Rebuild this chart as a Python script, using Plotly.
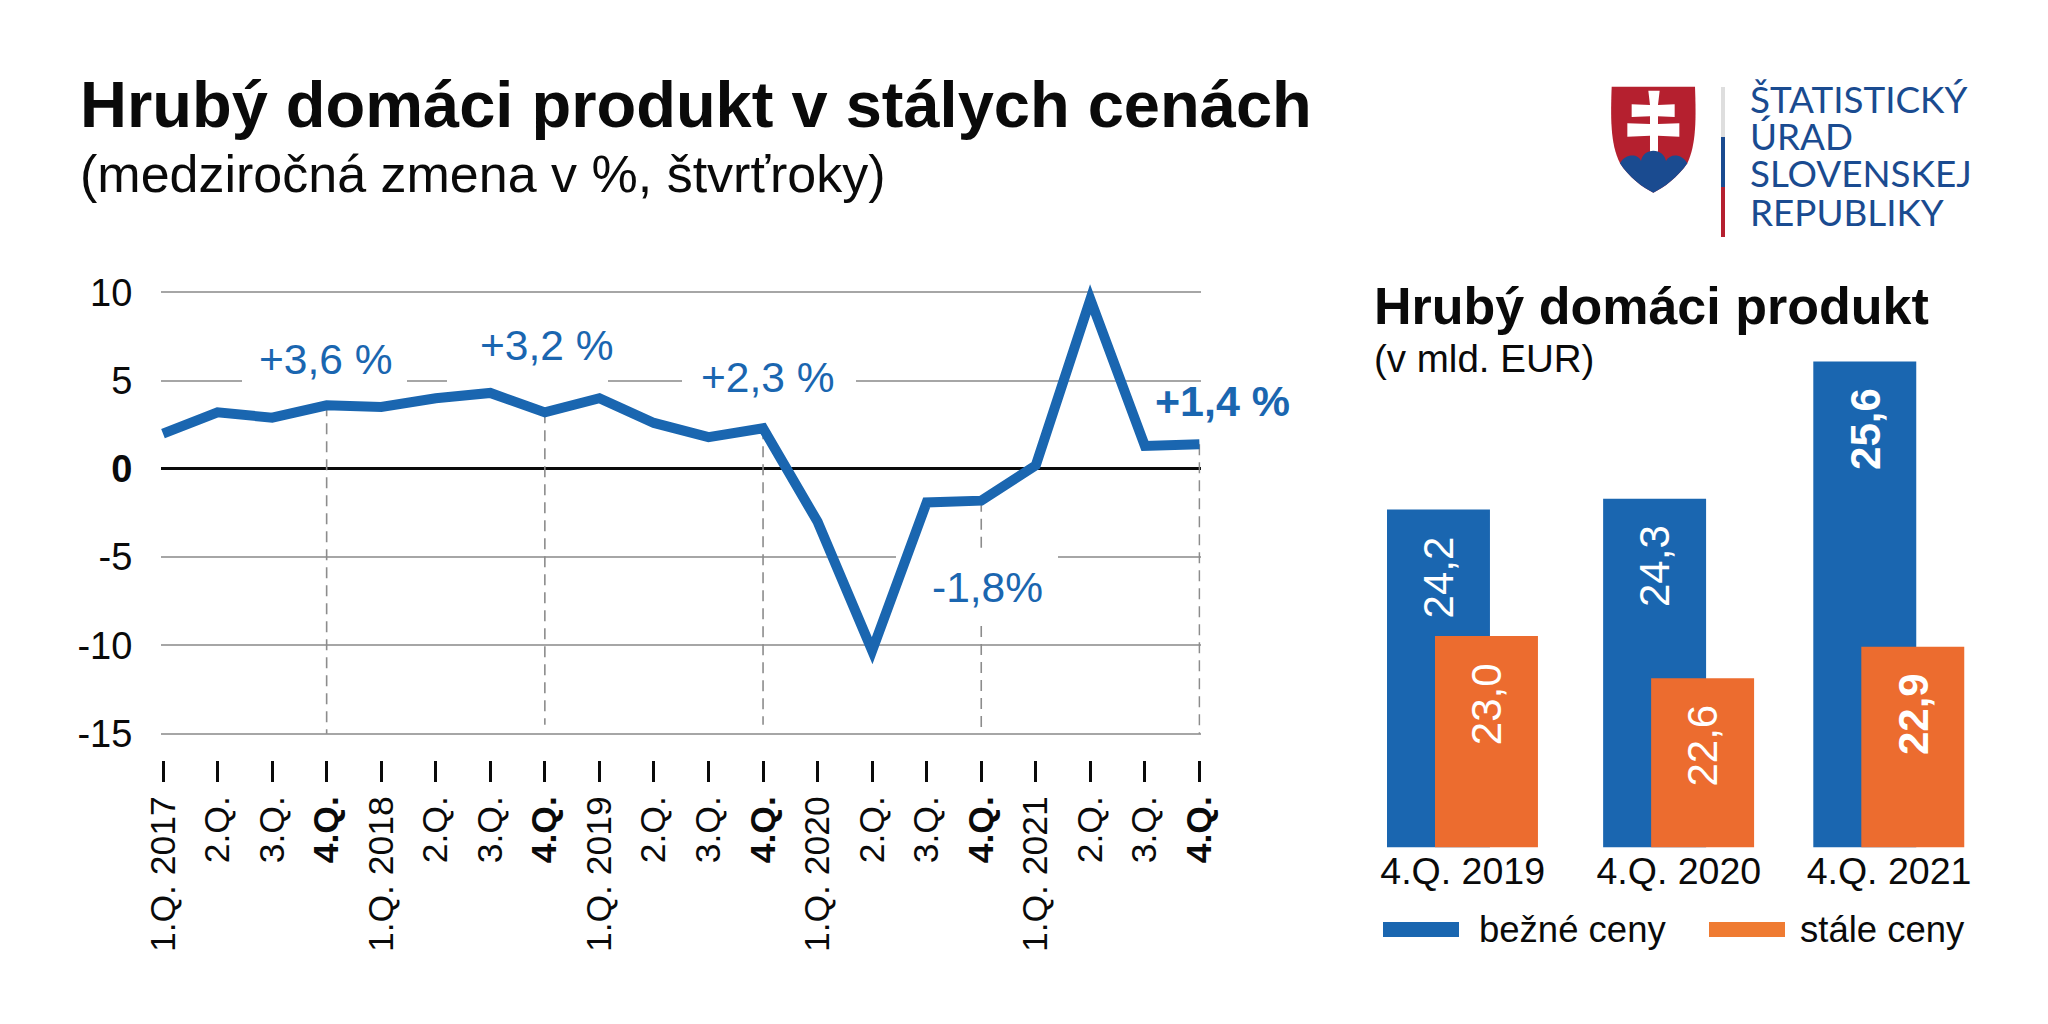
import plotly.graph_objects as go

W, H = 2048, 1024
FONT = "Liberation Sans"
BLUE = "#1A66B0"
ORANGE = "#EC6C2F"
BLACK = "#0A0A0A"
GRID = "#A6A6A6"
DASH = "#8C8C8C"

# ---------- data ----------
quarters = ["1.Q. 2017", "2.Q.", "3.Q.", "<b>4.Q.</b>",
            "1.Q. 2018", "2.Q.", "3.Q.", "<b>4.Q.</b>",
            "1.Q. 2019", "2.Q.", "3.Q.", "<b>4.Q.</b>",
            "1.Q. 2020", "2.Q.", "3.Q.", "<b>4.Q.</b>",
            "1.Q. 2021", "2.Q.", "3.Q.", "<b>4.Q.</b>"]
gdp_yoy = [2.0, 3.2, 2.9, 3.6, 3.5, 4.0, 4.3, 3.2, 4.0, 2.6, 1.8, 2.3,
           -3.0, -10.3, -1.9, -1.8, 0.2, 9.6, 1.3, 1.4]
q4_index = [3, 7, 11, 15, 19]
dash_bottom = [-15, -14.5, -14.5, -15, -15]
y_ticks = [10, 5, 0, -5, -10, -15]
y_tick_labels = ["10", "5", "<b>0</b>", "-5", "-10", "-15"]

bar_categories = ["4.Q. 2019", "4.Q. 2020", "4.Q. 2021"]
bar_positions = [0, 1.014, 2]
current_prices = [24.2, 24.3, 25.6]
constant_prices = [23.0, 22.6, 22.9]
current_labels = ["24,2", "24,3", "<b>25,6</b>"]
constant_labels = ["23,0", "22,6", "<b>22,9</b>"]


def px(x):
    return x / W


def py(y):
    return 1 - y / H


def path(points):
    out = []
    for cmd, *pts in points:
        s = cmd
        s += " ".join(f"{px(a):.5f},{py(b):.5f}" for a, b in pts)
        out.append(s)
    return " ".join(out) + " Z"


def logo(x, y):
    return (1580 + x / 3, 60 + y / 3)


# geometry of the line plot
X0, DX = 163.0, 54.55
L_LEFT, L_RIGHT = 161, 1200.5
L_TOP, L_BOT = 270, 760
Y10, Y15 = 292.3, 733.7
U = (Y15 - Y10) / 25
y_hi = 10 + (Y10 - L_TOP) / U
y_lo = -15 - (L_BOT - Y15) / U


def xd(p):
    return (p - X0) / DX


def yd(p):
    return 10 - (p - Y10) / U


fig = go.Figure()

# ---------- line chart ----------
for i, b in zip(q4_index, dash_bottom):
    if i == 15:  # the dashed line is interrupted by the -1,8% label
        ys = [gdp_yoy[i], -4.5, None, -8.9, b]
        xs = [i, i, None, i, i]
    else:
        ys = [gdp_yoy[i], b]
        xs = [i, i]
    fig.add_trace(go.Scatter(x=xs, y=ys, mode="lines",
                             line=dict(color=DASH, width=1.6, dash="11px,7px"),
                             hoverinfo="skip", showlegend=False, xaxis="x", yaxis="y"))
fig.add_trace(go.Scatter(x=list(range(len(gdp_yoy))), y=gdp_yoy, mode="lines",
                         line=dict(color=BLUE, width=10), showlegend=False,
                         xaxis="x", yaxis="y"))

# ---------- bar chart ----------
BW = 0.483
B_LEFT_PX, B_UNIT = 1462.7, 213.15
OFF_A, OFF_B = (1387 - B_LEFT_PX) / B_UNIT, (1435 - B_LEFT_PX) / B_UNIT
fig.add_trace(go.Bar(x=bar_positions, y=current_prices, width=BW, offset=OFF_A, marker_color=BLUE,
                     marker_line_width=0, name="bežné ceny", showlegend=False, xaxis="x2", yaxis="y2"))
fig.add_trace(go.Bar(x=bar_positions, y=constant_prices, width=BW, offset=OFF_B, marker_color=ORANGE,
                     marker_line_width=0, name="stále ceny", showlegend=False, xaxis="x2", yaxis="y2"))

B_BOT = 847.3
B_UNIT_Y = 105.6
B_TOP = B_BOT - 5 * B_UNIT_Y

fig.update_layout(
    width=W, height=H, margin=dict(l=0, r=0, t=0, b=0, autoexpand=False), autosize=False,
    paper_bgcolor="white", plot_bgcolor="rgba(0,0,0,0)", showlegend=False,
    barmode="overlay", font=dict(family=FONT, color=BLACK),
    xaxis=dict(domain=[px(L_LEFT), px(L_RIGHT)], range=[xd(L_LEFT), xd(L_RIGHT)], tickmode="array",
               tickvals=list(range(20)), ticktext=quarters, tickangle=-90,
               ticks="outside", ticklen=21, tickwidth=3, tickcolor=BLACK,
               tickfont=dict(size=35.5, color=BLACK), showgrid=False, showline=False,
               zeroline=False, anchor="y"),
    yaxis=dict(domain=[py(L_BOT), py(L_TOP)], range=[y_lo, y_hi], tickmode="array",
               tickvals=y_ticks, ticktext=y_tick_labels, tickfont=dict(size=38, color=BLACK),
               showgrid=True, gridcolor=GRID, gridwidth=1.5, zeroline=True, zerolinecolor=BLACK,
               zerolinewidth=3, showline=False, ticks="outside", ticklen=20,
               tickcolor="rgba(0,0,0,0)", anchor="x"),
    xaxis2=dict(domain=[px(1370), px(1970)],
                range=[(1370 - B_LEFT_PX) / B_UNIT, (1970 - B_LEFT_PX) / B_UNIT], tickmode="array",
                tickvals=bar_positions, ticktext=bar_categories, tickfont=dict(size=37.5, color=BLACK),
                showgrid=False, zeroline=False, showline=False, ticks="", ticklabelstandoff=-2,
                anchor="y2"),
    yaxis2=dict(domain=[py(B_BOT), py(B_TOP)], range=[21, 26], visible=False, anchor="x2"),
)

shapes = []
# white gaps in the gridlines behind the labels: above gridlines, below traces
for x0, x1, y0, y1 in [(242, 407, 370, 390), (447, 608, 370, 390), (682, 856, 370, 390), (896, 1058, 548, 566)]:
    shapes.append(dict(type="rect", xref="x", yref="y", x0=xd(x0), x1=xd(x1), y0=yd(y1), y1=yd(y0),
                       fillcolor="white", line_width=0, layer="between"))

# legend swatches
shapes.append(dict(type="rect", xref="paper", yref="paper", x0=px(1383), x1=px(1459), y0=py(937), y1=py(922),
                   fillcolor=BLUE, line_width=0))
shapes.append(dict(type="rect", xref="paper", yref="paper", x0=px(1709), x1=px(1785), y0=py(937), y1=py(922),
                   fillcolor="#EF7B32", line_width=0))

# logo
shield = [("M", logo(95, 80)), ("L", logo(345, 80)), ("C", logo(348, 170), logo(350, 250), logo(322, 310)),
          ("C", logo(295, 350), logo(250, 385), logo(220, 398)),
          ("C", logo(190, 385), logo(145, 350), logo(120, 310)),
          ("C", logo(90, 250), logo(92, 170), logo(95, 80))]
hills = [("M", logo(120, 310)), ("C", logo(135, 280), logo(175, 280), logo(183, 303)),
         ("C", logo(190, 262), logo(250, 262), logo(258, 303)),
         ("C", logo(270, 280), logo(305, 280), logo(322, 310)),
         ("C", logo(295, 350), logo(250, 385), logo(220, 398)),
         ("C", logo(190, 385), logo(145, 350), logo(120, 310))]
cross = [("M", logo(205, 92)), ("L", logo(239, 92)), ("L", logo(234, 135)), ("L", logo(284, 133)),
         ("L", logo(284, 171)), ("L", logo(234, 169)), ("L", logo(234, 192)), ("L", logo(298, 190)),
         ("L", logo(298, 230)), ("L", logo(234, 227)), ("L", logo(234, 275)), ("L", logo(210, 275)),
         ("L", logo(210, 227)), ("L", logo(142, 230)), ("L", logo(142, 190)), ("L", logo(210, 192)),
         ("L", logo(210, 169)), ("L", logo(155, 171)), ("L", logo(155, 133)), ("L", logo(210, 135))]
for p, c in [(shield, "#B5202F"), (cross, "white"), (hills, "#1A4B90")]:
    shapes.append(dict(type="path", xref="paper", yref="paper", path=path(p), fillcolor=c, line_width=0))
for y0, y1, c in [(87, 137, "#DEDEDE"), (137, 187, "#1A4B90"), (187, 237, "#B5202F")]:
    shapes.append(dict(type="rect", xref="paper", yref="paper", x0=px(1721), x1=px(1725), y0=py(y1), y1=py(y0),
                       fillcolor=c, line_width=0))
fig.update_layout(shapes=shapes)


def note(x, y, text, size, color=BLACK, anchor="left"):
    return dict(xref="paper", yref="paper", x=px(x), y=py(y), text=text, showarrow=False,
                xanchor=anchor, yanchor="middle", font=dict(size=size, color=color, family=FONT))


anns = [
    note(78, 104, "<b>Hrubý domáci produkt v stálych cenách</b>", 65),
    note(78, 174, "(medziročná zmena v %, štvrťroky)", 52),
    note(1372, 306, "<b>Hrubý domáci produkt</b>", 52),
    note(1372, 358, "(v mld. EUR)", 38.5),
    note(257, 359, "+3,6 %", 42.5, BLUE),
    note(478, 345, "+3,2 %", 42.5, BLUE),
    note(699, 377, "+2,3 %", 42.5, BLUE),
    note(930, 587, "-1,8%", 42.5, BLUE),
    note(1153, 401, "<b>+1,4 %</b>", 43, BLUE),
    note(1477, 929, "bežné ceny", 36.5),
    note(1798, 929, "stále ceny", 36.5),
]
for txt, y in zip(["ŠTATISTICKÝ", "ÚRAD", "SLOVENSKEJ", "REPUBLIKY"], [99, 136, 173, 212]):
    a = note(1748, y, txt, 36.8, "#1A4B90")
    a["font"]["family"] = "Lato"
    anns.append(a)

# bar value labels, placed through the bar chart's axes
for i in range(3):
    anns.append(dict(xref="x2", yref="y2", x=bar_positions[i] + OFF_A + BW / 2, y=current_prices[i] - 0.64,
                     text=current_labels[i], textangle=-90, showarrow=False,
                     font=dict(size=42, color="white", family=FONT)))
    anns.append(dict(xref="x2", yref="y2", x=bar_positions[i] + OFF_B + BW / 2, y=constant_prices[i] - 0.64,
                     text=constant_labels[i], textangle=-90, showarrow=False,
                     font=dict(size=42, color="white", family=FONT)))
fig.update_layout(annotations=anns)

fig.write_html(
    "out.html",
    config={"displayModeBar": False},
    post_script="document.body.style.margin='0';"
                "document.querySelectorAll('.scatterlayer .js-line').forEach(function(p){"
                "p.style.strokeLinejoin='miter';p.style.strokeMiterlimit='10';});",
)
